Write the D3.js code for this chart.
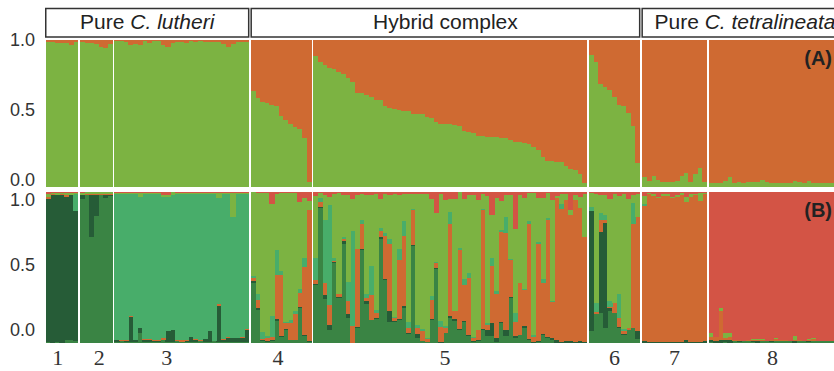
<!DOCTYPE html>
<html>
<head>
<meta charset="utf-8">
<script src="https://cdn.jsdelivr.net/npm/d3@7"></script>
<style>
  body { margin: 0; background: #fff; }
  svg { display: block; }
</style>
</head>
<body>
<div id="chart"></div>
<script>
// ---- data ----
const popLabels = ['1', '2', '3', '4', '5', '6', '7', '8'];
const headers = [
  { plain: 'Pure ', ital: 'C. lutheri', from: 0, to: 2 },
  { plain: 'Hybrid complex', ital: '', from: 3, to: 5 },
  { plain: 'Pure ', ital: 'C. tetralineata', from: 6, to: 7 }
];
const yTicks = [0, 0.5, 1];

// K = 2 (panel A): proportion of the green cluster per individual
const pop1A = [0.986, 0.985, 0.982, 0.982, 0.982, 0.966, 0.984];
const pop2A = [0.984, 0.98, 0.98, 0.973, 0.955, 0.948, 0.97];
const pop3A = [0.99, 0.99, 0.985, 0.965, 0.975, 0.965, 0.99, 0.98, 0.99, 0.99, 0.965, 0.955, 0.98, 0.985, 0.985,
  0.98, 0.99, 0.985, 0.99, 0.985, 0.985, 0.985, 0.985, 0.975, 0.95, 0.97, 0.985, 0.985, 0.985];
const pop4A = [0.654, 0.603, 0.577, 0.57, 0.56, 0.55, 0.48, 0.455, 0.43, 0.41, 0.39, 0.334, 0.034];
const pop5A = [0.891, 0.852, 0.83, 0.811, 0.80, 0.784, 0.768, 0.739, 0.716, 0.639, 0.636, 0.627, 0.613, 0.591, 0.59,
  0.55, 0.534, 0.528, 0.523, 0.516, 0.516, 0.496, 0.496, 0.496, 0.477, 0.466, 0.443, 0.427, 0.427, 0.427,
  0.42, 0.414, 0.382, 0.375, 0.364, 0.346, 0.346, 0.341, 0.341, 0.341, 0.334, 0.334, 0.318, 0.307, 0.307,
  0.30, 0.289, 0.273, 0.25, 0.204, 0.175, 0.175, 0.171, 0.171, 0.141, 0.121, 0.115, 0.084, 0.027];
const pop6A = [0.898, 0.852, 0.70, 0.678, 0.659, 0.613, 0.557, 0.55, 0.50, 0.414, 0.16];
const pop7A = [0.068, 0.039, 0.073, 0.048, 0.032, 0.032, 0.029, 0.039, 0.073, 0.091, 0.034, 0.087, 0.13, 0.034];
const pop8A = [0.025, 0.023, 0.028, 0.038, 0.066, 0.028, 0.034, 0.024, 0.03, 0.03, 0.03, 0.046, 0.03, 0.025, 0.025,
  0.024, 0.028, 0.025, 0.04, 0.03, 0.025, 0.038, 0.025, 0.025, 0.025, 0.025, 0.025, 0.025, 0.03, 0.025];

// panel B clusters, bottom to top
const clusterKeys = ['medGreen', 'darkGreen', 'orange', 'teal', 'lightGreen', 'red'];
const clusterColors = ['#3a8444', '#265c37', '#cf6a32', '#48ad6a', '#7cb342', '#d35445'];
const kTwoKeys = ['green', 'orange'];
const kTwoColors = ['#7cb342', '#cf6a32'];

const pop1B = [
  [0.01, 0.945, 0.008, 0, 0.025, 0.012], [0.005, 0.975, 0.003, 0, 0.01, 0.007], [0.01, 0.965, 0.003, 0, 0.015, 0.007],
  [0.005, 0.975, 0.003, 0, 0.01, 0.007], [0.025, 0.94, 0.01, 0, 0.015, 0.01], [0.02, 0.955, 0.005, 0, 0.01, 0.01],
  [0.015, 0.855, 0.003, 0.11, 0.01, 0.007]];
const pop2B = [
  [0.955, 0.02, 0.005, 0, 0.01, 0.01], [0.975, 0.005, 0.005, 0, 0.01, 0.005], [0.70, 0.28, 0.005, 0, 0.01, 0.005],
  [0.84, 0.14, 0.005, 0, 0.01, 0.005], [0.975, 0.005, 0.003, 0, 0.012, 0.005], [0.96, 0.02, 0.003, 0.005, 0.007, 0.005],
  [0.97, 0.01, 0.003, 0.005, 0.007, 0.005]];
const pop3B = [
  [0.01, 0.01, 0.003, 0.96, 0.007, 0.01], [0.015, 0.003, 0.006, 0.96, 0.008, 0.008], [0.01, 0.003, 0.006, 0.965, 0.008, 0.008],
  [0.01, 0.165, 0.005, 0.805, 0.008, 0.007], [0.008, 0.012, 0.003, 0.96, 0.01, 0.007], [0.066, 0.033, 0.005, 0.86, 0.03, 0.006],
  [0.008, 0.015, 0.003, 0.96, 0.008, 0.006], [0.008, 0.015, 0.003, 0.96, 0.008, 0.006], [0.01, 0.003, 0.006, 0.965, 0.01, 0.006],
  [0.008, 0.01, 0.003, 0.965, 0.008, 0.006], [0.02, 0.003, 0.01, 0.935, 0.01, 0.022], [0.008, 0.07, 0.006, 0.88, 0.012, 0.024],
  [0.008, 0.077, 0.006, 0.89, 0.015, 0.004], [0.015, 0.003, 0.003, 0.965, 0.008, 0.006], [0.008, 0.003, 0.01, 0.965, 0.008, 0.006],
  [0.008, 0.01, 0.003, 0.965, 0.008, 0.006], [0.008, 0.033, 0.003, 0.942, 0.008, 0.006], [0.008, 0.015, 0.003, 0.96, 0.008, 0.006],
  [0.015, 0.003, 0.006, 0.96, 0.01, 0.006], [0.008, 0.02, 0.003, 0.955, 0.008, 0.006], [0.008, 0.07, 0.003, 0.905, 0.008, 0.006],
  [0.012, 0.003, 0.003, 0.968, 0.008, 0.006], [0.008, 0.24, 0.01, 0.70, 0.036, 0.006], [0.008, 0.015, 0.003, 0.96, 0.008, 0.006],
  [0.008, 0.03, 0.003, 0.945, 0.008, 0.006], [0.008, 0.025, 0.003, 0.80, 0.158, 0.006], [0.008, 0.025, 0.003, 0.95, 0.008, 0.006],
  [0.008, 0.03, 0.003, 0.945, 0.008, 0.006], [0.008, 0.08, 0.006, 0.89, 0.01, 0.006]];
const pop4B = [
  [0.40, 0.01, 0.02, 0.015, 0.55, 0.005], [0.22, 0.01, 0.055, 0.04, 0.665, 0.01], [0.015, 0.005, 0.01, 0.045, 0.915, 0.01],
  [0.01, 0.005, 0.018, 0.015, 0.945, 0.007], [0.015, 0.005, 0.02, 0.14, 0.74, 0.08], [0.15, 0.01, 0.29, 0.165, 0.37, 0.015],
  [0.04, 0.01, 0.40, 0.03, 0.51, 0.01], [0.085, 0.01, 0.04, 0.005, 0.85, 0.01], [0.02, 0.005, 0.11, 0.02, 0.835, 0.01],
  [0.02, 0.005, 0.17, 0.02, 0.775, 0.01], [0.23, 0.01, 0.09, 0.03, 0.57, 0.07], [0.045, 0.01, 0.45, 0.06, 0.395, 0.04],
  [0.01, 0.005, 0.865, 0.0, 0.06, 0.06]];
const pop5B = [
  [0.385, 0.005, 0.03, 0.145, 0.405, 0.03], [0.895, 0.005, 0.035, 0.025, 0.03, 0.01], [0.29, 0.03, 0.075, 0.42, 0.165, 0.02],
  [0.09, 0.03, 0.13, 0.665, 0.05, 0.035], [0.53, 0.007, 0.005, 0.02, 0.42, 0.018], [0.30, 0.007, 0.015, 0.0, 0.668, 0.01],
  [0.655, 0.02, 0.013, 0.01, 0.282, 0.02], [0.165, 0.026, 0.085, 0.13, 0.57, 0.024], [0.005, 0.0, 0.105, 0.625, 0.21, 0.045],
  [0.10, 0.01, 0.51, 0.0, 0.36, 0.02], [0.615, 0.01, 0.16, 0.03, 0.17, 0.015], [0.26, 0.02, 0.02, 0.026, 0.654, 0.02],
  [0.155, 0.0, 0.165, 0.19, 0.47, 0.02], [0.16, 0.007, 0.035, 0.018, 0.763, 0.017], [0.69, 0.01, 0.04, 0.02, 0.195, 0.045],
  [0.42, 0.005, 0.28, 0.02, 0.258, 0.017], [0.14, 0.075, 0.44, 0.035, 0.29, 0.02], [0.14, 0.01, 0.015, 0.007, 0.81, 0.018],
  [0.155, 0.005, 0.39, 0.07, 0.36, 0.02], [0.235, 0.01, 0.46, 0.105, 0.175, 0.015], [0.06, 0.01, 0.033, 0.04, 0.842, 0.015],
  [0.64, 0.007, 0.235, 0.007, 0.096, 0.015], [0.035, 0.026, 0.04, 0.018, 0.866, 0.015], [0.012, 0.003, 0.065, 0.012, 0.893, 0.015],
  [0.008, 0.003, 0.02, 0.007, 0.944, 0.018], [0.155, 0.003, 0.13, 0.025, 0.637, 0.05], [0.49, 0.01, 0.03, 0.007, 0.323, 0.14],
  [0.005, 0.003, 0.1, 0.04, 0.837, 0.015], [0.066, 0.003, 0.033, 0.01, 0.833, 0.055], [0.17, 0.007, 0.61, 0.077, 0.091, 0.045],
  [0.15, 0.008, 0.057, 0.0, 0.74, 0.045], [0.085, 0.008, 0.52, 0.018, 0.364, 0.005], [0.14, 0.007, 0.24, 0.04, 0.528, 0.045],
  [0.045, 0.007, 0.38, 0.03, 0.516, 0.022], [0.01, 0.003, 0.022, 0.007, 0.936, 0.022], [0.018, 0.003, 0.07, 0.0, 0.855, 0.054],
  [0.09, 0.007, 0.78, 0.011, 0.1, 0.012], [0.05, 0.037, 0.033, 0.011, 0.84, 0.029], [0.045, 0.09, 0.375, 0.05, 0.285, 0.155],
  [0.011, 0.026, 0.285, 0.025, 0.61, 0.043], [0.135, 0.003, 0.595, 0.015, 0.19, 0.062], [0.045, 0.04, 0.64, 0.108, 0.145, 0.022],
  [0.30, 0.007, 0.24, 0.011, 0.42, 0.022], [0.033, 0.018, 0.09, 0.06, 0.553, 0.246], [0.055, 0.003, 0.34, 0.0, 0.58, 0.022],
  [0.103, 0.01, 0.237, 0.007, 0.60, 0.043], [0.022, 0.007, 0.76, 0.015, 0.185, 0.011], [0.005, 0.003, 0.033, 0.013, 0.935, 0.011],
  [0.011, 0.003, 0.64, 0.015, 0.29, 0.041], [0.055, 0.004, 0.34, 0.022, 0.535, 0.044], [0.037, 0.003, 0.776, 0.011, 0.162, 0.011],
  [0.022, 0.011, 0.24, 0.007, 0.665, 0.055], [0.003, 0.018, 0.94, 0.0, 0.011, 0.028], [0.003, 0.005, 0.88, 0.029, 0.066, 0.017],
  [0.003, 0.01, 0.935, 0.0, 0.035, 0.017], [0.003, 0.01, 0.835, 0.0, 0.032, 0.12], [0.003, 0.007, 0.935, 0.0, 0.033, 0.022],
  [0.003, 0.01, 0.88, 0.0, 0.074, 0.033], [0.003, 0.005, 0.69, 0.0, 0.285, 0.017]];
const pop6B = [
  [0.08, 0.79, 0.005, 0.026, 0.09, 0.009], [0.19, 0.005, 0.01, 0.06, 0.72, 0.015], [0.2, 0.535, 0.08, 0.045, 0.12, 0.02],
  [0.1, 0.695, 0.02, 0.03, 0.135, 0.02], [0.21, 0.02, 0.012, 0.04, 0.673, 0.045], [0.20, 0.003, 0.06, 0.0, 0.725, 0.012],
  [0.10, 0.007, 0.06, 0.155, 0.648, 0.03], [0.055, 0.005, 0.018, 0.015, 0.895, 0.012], [0.085, 0.005, 0.012, 0.0, 0.853, 0.045],
  [0.10, 0.0, 0.685, 0.14, 0.055, 0.02], [0.03, 0.05, 0.75, 0.0, 0.155, 0.015]];
const pop7B = [
  [0.003, 0.01, 0.89, 0.017, 0.05, 0.03], [0.005, 0.003, 0.975, 0, 0.007, 0.01], [0.003, 0.003, 0.967, 0, 0.01, 0.017],
  [0.003, 0.003, 0.95, 0, 0.01, 0.034], [0.005, 0.003, 0.965, 0, 0.015, 0.012], [0.005, 0.003, 0.965, 0, 0.01, 0.017],
  [0.005, 0.003, 0.95, 0, 0.005, 0.037], [0.005, 0.003, 0.96, 0, 0.01, 0.022], [0.005, 0.003, 0.97, 0, 0.015, 0.007],
  [0.005, 0.015, 0.91, 0, 0.035, 0.035], [0.005, 0.003, 0.96, 0, 0.017, 0.015], [0.005, 0.003, 0.97, 0, 0.005, 0.017],
  [0.005, 0.003, 0.93, 0, 0.055, 0.007], [0.005, 0.012, 0.965, 0, 0.008, 0.01]];
const pop8B = [
  [0.01, 0.01, 0.02, 0, 0.03, 0.93], [0.005, 0.01, 0.025, 0, 0.002, 0.958], [0.002, 0.02, 0.19, 0, 0.02, 0.768],
  [0.01, 0.01, 0.015, 0, 0.033, 0.932], [0.002, 0.02, 0.02, 0, 0.025, 0.933], [0.015, 0.002, 0.002, 0, 0.005, 0.976],
  [0.01, 0.002, 0.01, 0, 0.002, 0.976], [0.012, 0.002, 0.002, 0, 0.002, 0.982], [0.015, 0.002, 0.002, 0, 0.002, 0.979],
  [0.01, 0.002, 0.01, 0, 0.005, 0.973], [0.002, 0.01, 0.012, 0, 0.002, 0.974], [0.012, 0.002, 0.01, 0, 0.002, 0.974],
  [0.012, 0.002, 0.002, 0, 0.002, 0.982], [0.01, 0.002, 0.01, 0, 0.002, 0.976], [0.012, 0.002, 0.017, 0, 0.005, 0.964],
  [0.012, 0.002, 0.008, 0, 0.002, 0.976], [0.012, 0.002, 0.005, 0, 0.002, 0.979], [0.012, 0.002, 0.002, 0, 0.002, 0.982],
  [0.002, 0.015, 0.002, 0, 0.03, 0.951], [0.015, 0.002, 0.002, 0, 0.002, 0.979], [0.012, 0.002, 0.002, 0, 0.002, 0.982],
  [0.01, 0.002, 0.012, 0, 0.002, 0.974], [0.012, 0.002, 0.015, 0, 0.005, 0.966], [0.012, 0.002, 0.002, 0, 0.002, 0.982],
  [0.012, 0.002, 0.002, 0, 0.002, 0.982], [0.012, 0.002, 0.002, 0, 0.002, 0.982], [0.012, 0.002, 0.002, 0, 0.002, 0.982],
  [0.012, 0.002, 0.002, 0, 0.002, 0.982], [0.012, 0.002, 0.002, 0, 0.002, 0.982], [0.012, 0.002, 0.002, 0, 0.002, 0.982]];

const panelA = [pop1A, pop2A, pop3A, pop4A, pop5A, pop6A, pop7A, pop8A];
const panelB = [pop1B, pop2B, pop3B, pop4B, pop5B, pop6B, pop7B, pop8B];
// small shifts of the population numbers from their bar centres, as in the figure
const labelNudge = [-4, 3, -15, -3, -5, 0, 0, -6];

// ---- layout ----
const W = 834, H = 371;
const gapU = 0.43;            // white gap between populations, in bar units
const left = 45.5, right = 848;

const svg = d3.select('#chart').append('svg')
  .attr('width', W).attr('height', H)
  .attr('font-family', 'Liberation Sans, Arial, sans-serif');

// flatten individuals, keeping a unit position that includes the gaps
const inds = [];
const popSpan = [];
let n = 0;
panelA.forEach((arr, p) => {
  const start = n + p * gapU;
  arr.forEach((g, i) => {
    const rowB = panelB[p][i];
    const sum = d3.sum(rowB);
    const d = { pop: p, u: n + p * gapU, green: g, orange: 1 - g, b: {} };
    clusterKeys.forEach((k, j) => { d.b[k] = rowB[j] / sum; });
    inds.push(d);
    n++;
  });
  popSpan.push([start, n + p * gapU]);
});
const totalU = n + (panelA.length - 1) * gapU;

const x = d3.scaleLinear().domain([0, totalU]).range([left, right]);
const bw = x(1) - x(0);

const yA = d3.scaleLinear().domain([0, 1]).range([186.7, 40]);
const yB = d3.scaleLinear().domain([0, 1]).range([343.3, 191.7]);
const tickA = d3.scaleLinear().domain([0, 1]).range([180, 40]);
const tickB = d3.scaleLinear().domain([0, 1]).range([330, 200]);

// ---- panel A ----
const stackA = d3.stack().keys(kTwoKeys)(inds);
svg.append('g').attr('shape-rendering', 'crispEdges')
  .selectAll('g')
  .data(stackA).join('g')
  .attr('fill', (d, i) => kTwoColors[i])
  .selectAll('rect')
  .data(d => d).join('rect')
  .attr('x', d => x(d.data.u))
  .attr('width', bw + 0.5)
  .attr('y', d => yA(d[1]))
  .attr('height', d => Math.max(0, yA(d[0]) - yA(d[1])));

// ---- panel B ----
const stackB = d3.stack().keys(clusterKeys).value((d, k) => d.b[k])(inds);
svg.append('g').attr('shape-rendering', 'crispEdges')
  .selectAll('g')
  .data(stackB).join('g')
  .attr('fill', (d, i) => clusterColors[i])
  .selectAll('rect')
  .data(d => d).join('rect')
  .attr('x', d => x(d.data.u))
  .attr('width', bw + 0.5)
  .attr('y', d => yB(d[1]))
  .attr('height', d => Math.max(0, yB(d[0]) - yB(d[1])));

// ---- y tick labels ----
const tickFmt = d3.format('.1f');
[tickA, tickB].forEach(s => {
  svg.append('g').selectAll('text')
    .data(yTicks).join('text')
    .attr('x', 35).attr('y', d => s(d)).attr('dy', '0.36em')
    .attr('text-anchor', 'end')
    .attr('font-size', 18).attr('fill', '#333')
    .text(tickFmt);
});

// ---- header boxes ----
const hdr = svg.append('g');
headers.forEach(h => {
  const x0 = x(popSpan[h.from][0]) - 0.5, x1 = x(popSpan[h.to][1]) + 0.5;
  hdr.append('rect')
    .attr('x', x0 + 0.75).attr('y', 8.5)
    .attr('width', x1 - x0 - 1.5).attr('height', 28.5)
    .attr('fill', '#fff').attr('stroke', '#333').attr('stroke-width', 1.5);
  const t = hdr.append('text')
    .attr('x', (x0 + x1) / 2).attr('y', 29)
    .attr('text-anchor', 'middle').attr('font-size', 21).attr('fill', '#222');
  t.append('tspan').text(h.plain);
  if (h.ital) t.append('tspan').attr('font-style', 'italic').text(h.ital);
});

// ---- panel tags ----
svg.append('text').attr('x', 832).attr('y', 65).attr('text-anchor', 'end')
  .attr('font-size', 20).attr('font-weight', 'bold').attr('fill', '#222').text('(A)');
svg.append('text').attr('x', 832).attr('y', 217).attr('text-anchor', 'end')
  .attr('font-size', 20).attr('font-weight', 'bold').attr('fill', '#222').text('(B)');

// ---- population numbers ----
svg.append('g').selectAll('text')
  .data(popLabels).join('text')
  .attr('x', (d, i) => (x(popSpan[i][0]) + x(popSpan[i][1])) / 2 + labelNudge[i])
  .attr('y', 365)
  .attr('text-anchor', 'middle')
  .attr('font-family', 'Liberation Serif, Times New Roman, serif')
  .attr('font-size', 22).attr('fill', '#333')
  .text(d => d);
</script>
</body>
</html>
